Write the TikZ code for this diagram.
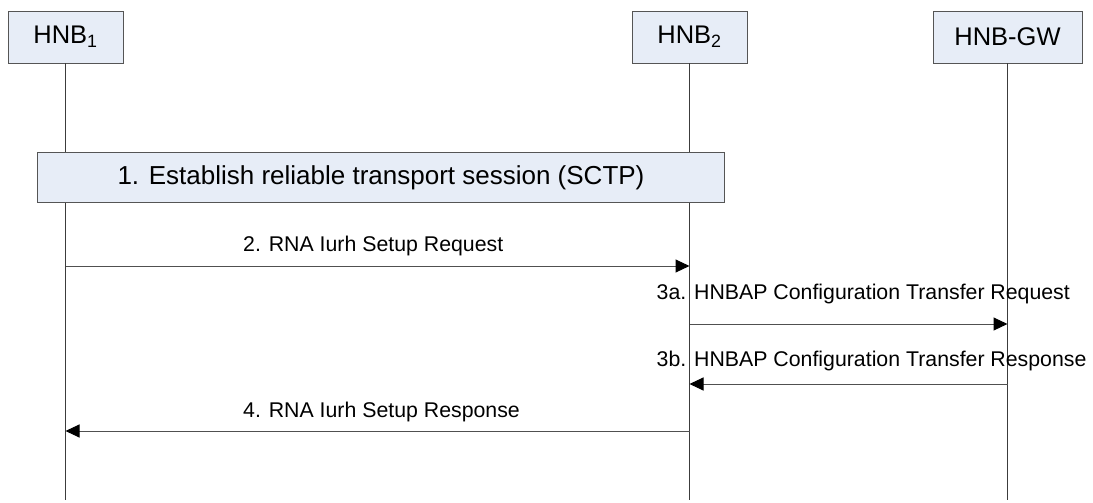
\documentclass[tikz,border=0pt]{standalone}
\usepackage{fontspec}
\setmainfont{Liberation Sans}
\usetikzlibrary{arrows.meta}
\definecolor{boxfill}{HTML}{E7EDF7}
\definecolor{boxline}{HTML}{555555}
\definecolor{lifeline}{HTML}{3C3C3C}
\definecolor{msgline}{HTML}{505050}
\tikzset{
  entity/.style={draw=boxline, fill=boxfill, line width=0.9pt, minimum height=52pt, inner sep=0pt, font=\fontsize{25.5}{28}\selectfont},
  bigbox/.style={draw=boxline, fill=boxfill, line width=0.9pt, minimum height=49.5pt, minimum width=686.5pt, inner sep=0pt, font=\fontsize{26}{29}\selectfont},
  life/.style={draw=lifeline, line width=0.9pt},
  msg/.style={draw=msgline, line width=1pt, -{Triangle[length=14pt,width=13pt,color=black]}},
  lbl/.style={font=\fontsize{21.3}{24}\selectfont, inner sep=0pt, anchor=west}
}
\begin{document}
\begin{tikzpicture}[x=1pt,y=-1pt]
\useasboundingbox (0,0) rectangle (1093,503);
% entity boxes
\node[entity, minimum width=115pt] (h1) at (65.5,37) {HNB\textsubscript{1}};
\node[entity, minimum width=115pt] (h2) at (689.5,37) {HNB\textsubscript{2}};
\node[entity, minimum width=149pt] (gw) at (1007.5,37) {HNB-GW};
% lifeline ends
\coordinate (e1) at (65.5,500);
\coordinate (e2) at (689.5,500);
\coordinate (e3) at (1007.5,500);
\draw[life] (h1.south) -- (e1);
\draw[life] (h2.south) -- (e2);
\draw[life] (gw.south) -- (e3);
% step 1
\node[bigbox] (s1) at (381,177.5) {1. Establish reliable transport session (SCTP)};
% message anchor points
\coordinate (m2a) at (65.5,266);
\coordinate (m2b) at (689.5,266);
\coordinate (m3aa) at (689.5,324);
\coordinate (m3ab) at (1007.5,324);
\coordinate (m3ba) at (1007.5,384);
\coordinate (m3bb) at (689.5,384);
\coordinate (m4a) at (689.5,431);
\coordinate (m4b) at (65.5,431);
\draw[msg] (m2a) -- (m2b);
\draw[msg] (m3aa) -- (m3ab);
\draw[msg] (m3ba) -- (m3bb);
\draw[msg] (m4a) -- (m4b);
% labels
\node[lbl] (l2) at (243,246) {2. RNA Iurh Setup Request};
\node[lbl] (l3a) at (656.5,294) {3a. HNBAP Configuration Transfer Request};
\node[lbl] (l3b) at (656.5,361) {3b. HNBAP Configuration Transfer Response};
\node[lbl] (l4) at (243,412) {4. RNA Iurh Setup Response};
\end{tikzpicture}
\end{document}
